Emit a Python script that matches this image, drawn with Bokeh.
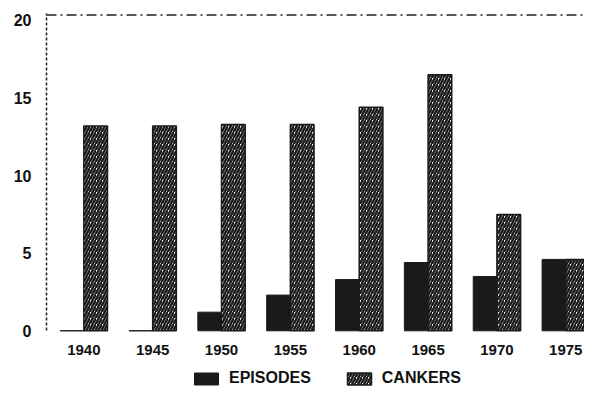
from bokeh.plotting import figure
from bokeh.models import Range1d, Legend, LegendItem, Span, FixedTicker
from bokeh.transform import dodge
from bokeh.models import ColumnDataSource
from bokeh.core.properties import value
from bokeh.embed import file_html
from bokeh.resources import INLINE

years = [1940, 1945, 1950, 1955, 1960, 1965, 1970, 1975]
year_labels = ["1940", "1945", "1950", "1955", "1960", "1965", "1970", "1975"]
episodes = [0.0, 0.0, 1.2, 2.3, 3.3, 4.4, 3.5, 4.6]
cankers = [13.2, 13.2, 13.3, 13.3, 14.4, 16.5, 7.5, 4.6]
y_ticks = [0, 5, 10, 15, 20]

src = ColumnDataSource(dict(year=years, label=year_labels, base=[0] * len(years),
                            episodes=episodes, cankers=cankers))

FONT = "Liberation Sans"
INK = "#1a1a1a"

p = figure(width=584, height=388, x_range=Range1d(1937.29, 1976.36), y_range=Range1d(-3.72, 20.45),
           output_backend="svg", toolbar_location=None,
           min_border_left=46, min_border_right=0, min_border_top=13, min_border_bottom=0)

bw = 1.72
r1 = p.vbar(x=dodge("year", -0.86, range=p.x_range), top="episodes", width=bw, source=src,
            fill_color=INK, line_color=INK)
r2 = p.vbar(x=dodge("year", 0.86, range=p.x_range), top="cankers", width=bw, source=src,
            fill_color="white", line_color=INK, line_width=1.5,
            hatch_pattern="/", hatch_color=INK, hatch_scale=6, hatch_weight=2.4)

# year labels under the bars (x axis tick labels)
p.text(x="year", y="base", text="label", source=src, y_offset=19,
       text_align="center", text_baseline="middle",
       text_font=value(FONT), text_font_style="bold", text_font_size="15px",
       text_color="#111111")

p.add_layout(Span(location=20.35, dimension="width", line_color="#222222", line_width=1.4,
                  line_dash="10 4 2 4"))

p.xgrid.visible = False
p.ygrid.visible = False
p.outline_line_color = None
p.xaxis.visible = False

p.yaxis.ticker = FixedTicker(ticks=y_ticks)
p.yaxis.bounds = (0, 20.45)
p.yaxis.axis_line_color = "#222222"
p.yaxis.axis_line_dash = "3 2"
p.yaxis.axis_line_width = 1.5
p.yaxis.major_tick_line_color = None
p.yaxis.minor_tick_line_color = None
p.yaxis.major_label_standoff = 9
p.yaxis.major_label_text_font = FONT
p.yaxis.major_label_text_font_style = "bold"
p.yaxis.major_label_text_font_size = "16px"
p.yaxis.major_label_text_color = "#111111"

legend = Legend(items=[LegendItem(label="EPISODES", renderers=[r1]),
                       LegendItem(label="CANKERS", renderers=[r2])],
                orientation="horizontal", location=(145, 1),
                glyph_width=30, glyph_height=15, spacing=33, padding=1, margin=0,
                label_standoff=8,
                label_text_font=FONT, label_text_font_style="bold",
                label_text_font_size="16px", label_text_color="#111111",
                border_line_color=None, background_fill_alpha=0)
p.add_layout(legend)

open("out.html", "w").write(file_html(p, INLINE))
